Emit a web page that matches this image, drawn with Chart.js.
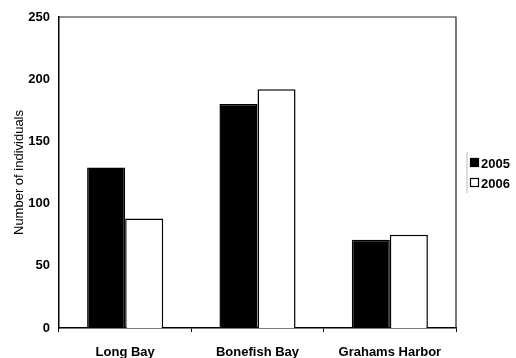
<!DOCTYPE html>
<html>
<head>
<meta charset="utf-8">
<script src="https://cdn.jsdelivr.net/npm/chart.js@4"></script>
<style>
  body { margin: 0; background: #fff; }
  #wrap { width: 516px; height: 358px; }
</style>
</head>
<body>
<div id="wrap"><canvas id="grafica"></canvas></div>
<script>
// datos
var sitios = ['Long Bay', 'Bonefish Bay', 'Grahams Harbor']
var anio2005 = [129, 180, 71]
var anio2006 = [88, 192, 75]
var ticksY = [0, 50, 100, 150, 200, 250]

Chart.defaults.font.family = "'Liberation Sans', Arial, sans-serif"
Chart.defaults.font.size = 13
Chart.defaults.color = '#000'

// borde del area + leyenda a la derecha
const extras = {
    id: 'extras',
    afterDraw(chart){
        const ctx = chart.ctx
        const a = chart.chartArea
        ctx.save()
        ctx.strokeStyle = '#222'
        ctx.lineWidth = 1.2
        ctx.beginPath()
        ctx.moveTo(a.left, a.top)
        ctx.lineTo(a.right, a.top)
        ctx.lineTo(a.right, a.bottom)
        ctx.stroke()
        // leyenda
        ctx.strokeStyle = '#bbb'
        ctx.lineWidth = 1
        ctx.beginPath()
        ctx.moveTo(467, 152)
        ctx.lineTo(467, 193)
        ctx.stroke()
        var ds = chart.data.datasets
        for(var i=0;i < ds.length;i++){
            var y = 163 + i * 20
            ctx.fillStyle = ds[i].backgroundColor
            ctx.fillRect(470.5, y - 4.5, 8, 8)
            ctx.strokeStyle = '#000'
            ctx.lineWidth = 1.2
            ctx.strokeRect(470.5, y - 4.5, 8, 8)
            ctx.fillStyle = '#000'
            ctx.font = "bold 13px 'Liberation Sans', Arial, sans-serif"
            ctx.textBaseline = 'middle'
            ctx.textAlign = 'left'
            ctx.fillText(ds[i].label, 481, y + 1)
        }
        ctx.restore()
    }
}

const ctx = document.getElementById('grafica');
const myChart = new Chart(ctx, {
    type: 'bar',
    data: {
        labels: sitios,
        datasets: [{
            label: '2005',
            data: anio2005,
            backgroundColor: '#000',
            borderColor: '#000',
            borderWidth: 1.5
        },{
            label: '2006',
            data: anio2006,
            backgroundColor: '#fff',
            borderColor: '#000',
            borderWidth: 1.5
        }]
    },
    options: {
        responsive: true,
        maintainAspectRatio: false,
        animation: false,
        layout: { padding: { top: 17, right: 60, left: 0, bottom: 0 } },
        datasets: { bar: { categoryPercentage: 0.575, barPercentage: 1 } },
        plugins: { legend: { display: false }, tooltip: { enabled: false } },
        scales: {
            x: {
                afterFit: function(s){ s.height = 30 },
                grid: { display: true, drawOnChartArea: false, offset: true, tickLength: 4, color: '#000', lineWidth: 1 },
                border: { display: true, color: '#000', width: 1.5 },
                ticks: { padding: 13, font: { weight: 'bold', size: 13 } }
            },
            y: {
                min: 0,
                max: 250,
                afterFit: function(s){ s.width = 59 },
                afterBuildTicks: function(s){ s.ticks = ticksY.map(function(v){ return { value: v } }) },
                grid: { display: false, drawTicks: false },
                border: { display: true, color: '#000', width: 1.5 },
                ticks: { padding: 9, font: { weight: 'bold', size: 13 } },
                title: {
                    display: true,
                    text: 'Number of individuals',
                    font: { size: 13 },
                    padding: { top: 12, bottom: 0 }
                }
            }
        }
    },
    plugins: [extras]
});
</script>
</body>
</html>
